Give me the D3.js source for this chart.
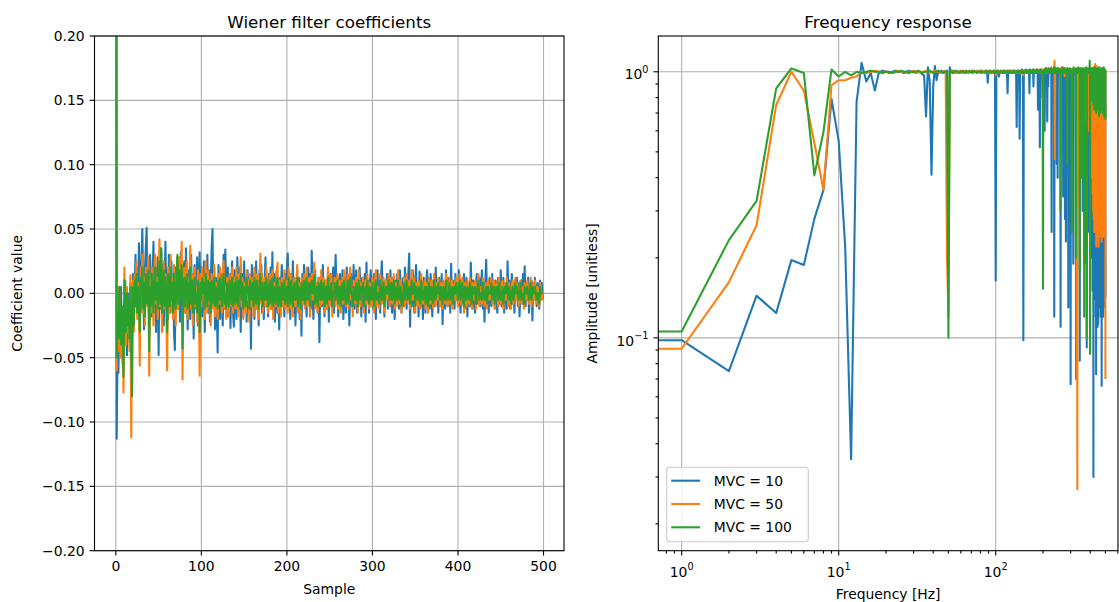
<!DOCTYPE html>
<html>
<head>
<meta charset="utf-8">
<script src="https://cdn.jsdelivr.net/npm/d3@7"></script>
<style>
  body { margin: 0; background: #fff; }
  svg text { font-family: "DejaVu Sans", sans-serif; fill: #000; }
</style>
</head>
<body>
<div id="chart"></div>
<script>
// ---------- data ----------
// Wiener filter coefficients, samples 0..499, in thousandths
const COEF_UNIT = 1000;
const coefMVC10 = [900,
  -113,-40,-62,-20,-45,5,-30,-55,-10,-35,10,-25,-48,0,-20,-38,8,-15,-30,
  15,-22,5,30,-10,20,-5,39,10,-15,25,50,0,-28,18,35,51,-8,22,-20,
  30,5,-18,12,40,-5,20,-30,10,28,-48,15,-12,35,0,22,-25,8,40,-10,
  18,-20,30,5,-15,25,-8,12,-30,-44,20,0,28,-12,15,-22,32,5,-18,10,
  25,-15,35,0,-28,18,8,-20,30,-5,15,-35,22,2,-12,28,-25,10,32,-8,
  20,-18,5,25,-30,12,0,30,-15,18,-22,8,35,50,-10,20,-28,12,-5,-46,
  22,0,-20,15,8,-25,30,-12,34,5,-18,20,-8,15,-27,10,25,-15,-26,18,
  5,-20,28,0,-12,20,-30,8,15,-18,25,-5,12,-22,18,0,-15,10,-43,22,
  -8,15,-20,5,25,-12,10,-25,18,0,22,-15,8,-20,12,28,-10,5,-18,15,
  0,20,-12,32,-8,15,-22,5,18,-15,10,-28,12,0,22,-10,5,-18,15,-5,
  20,31,-12,8,-20,15,0,25,-15,10,-25,5,18,-8,12,-20,8,-33,15,0,
  22,-10,5,-18,12,20,-5,15,-12,33,0,-20,10,18,-8,5,-15,12,-38,8,
  15,-10,22,0,-18,10,5,-12,18,-22,8,15,-8,0,20,-15,10,30,-5,12,
  -18,8,15,-10,0,18,-20,5,12,-15,20,-5,10,-25,8,15,-10,0,22,-12,
  5,18,-15,10,-8,20,0,-18,12,5,-12,15,-22,24,0,10,-15,8,18,-10,
  5,-12,15,0,-20,10,18,-8,5,-15,12,25,-5,8,-18,10,0,15,-12,5,
  -10,18,0,-15,12,5,-20,10,-5,15,0,-12,18,8,-15,5,12,-10,20,0,
  -12,8,15,31,-26,5,-10,18,0,-15,10,22,-8,5,-18,17,12,-10,8,-20,
  12,0,-15,10,18,-8,5,-12,15,0,-18,10,5,-10,20,-5,8,-15,12,0,
  -10,15,-24,8,5,-12,18,0,-10,12,5,-15,23,-8,10,0,-12,15,-5,8,
  -10,18,0,-15,10,5,-8,15,-12,0,12,-18,8,5,-10,24,0,-12,10,5,
  -15,8,15,-8,0,12,-10,5,18,-12,8,-22,10,26,-8,5,-15,12,0,-10,
  15,-5,8,-12,10,0,-15,12,5,-8,18,-10,0,12,-15,8,5,-12,25,-5,
  10,-12,0,15,-8,5,-15,10,0,12,-10,8,-18,5,10,-8,15,0,21,-10,
  8,-5,12,-15,5,0,10,-21,8,-5,12,0,-10,8,5,-12,10,0,8,-5];
const coefMVC50 = [900,
  -60,-25,-45,5,-30,-50,-15,-35,-77,20,-20,-40,5,-30,-10,-45,14,-112,-20,
  10,-30,15,-5,25,-20,8,-10,-56,20,0,30,-15,12,-25,20,5,-10,28,-64,
  10,-15,20,0,-25,15,30,-8,12,-20,5,42,-10,18,-30,8,25,-12,15,-5,
  -60,20,5,-15,30,-8,12,-20,22,0,-25,15,8,-12,28,-5,15,40,-67,10,
  20,-15,5,25,-20,10,0,37,-12,15,-25,8,20,-10,5,-22,18,0,-64,15,
  -10,20,-5,12,-20,25,0,-15,18,-8,10,-25,15,5,-12,22,-18,8,0,-20,
  15,-8,20,0,-15,10,25,-12,5,-20,12,0,-18,15,8,-10,20,-15,5,12,
  -12,20,0,-18,15,5,28,-10,12,-20,8,0,-15,18,-5,10,-22,15,0,-10,
  12,-18,20,5,-12,15,0,-20,10,31,-8,15,-15,5,12,-10,20,0,-15,8,
  15,-12,5,18,-20,8,0,-10,15,24,-15,10,0,-18,12,5,-10,18,-12,0,
  10,-15,20,5,-12,15,0,-18,8,12,-10,0,22,-15,8,5,-20,12,0,-8,
  15,-12,5,20,-10,0,12,-18,8,15,-5,10,24,-12,0,8,-15,12,5,-10,
  18,-8,0,12,-15,5,10,-12,20,0,-10,8,15,-18,5,0,12,-10,8,15,
  -12,5,10,-15,0,12,-8,18,5,-10,0,15,-12,8,20,-5,0,-18,10,5,
  -8,12,0,-15,18,5,-10,8,0,12,-15,5,10,-8,15,0,-12,8,5,-10,
  12,0,-15,8,18,-10,5,0,-12,15,8,-8,0,12,-15,5,10,-5,0,15,
  -10,5,12,-8,0,15,-12,8,5,-10,18,0,-8,10,-15,5,0,12,-10,8,
  15,-8,0,10,-12,5,18,-5,0,12,-15,8,5,-10,10,0,-12,15,5,-8,
  0,10,-12,8,5,-15,12,0,-8,10,5,-12,15,0,-10,8,-5,12,0,-10,
  8,5,-12,10,0,-8,15,5,-10,0,12,-8,5,10,-12,0,8,-5,12,0,
  -10,8,15,-8,0,12,5,-15,8,0,-10,10,5,-8,12,0,-12,8,5,-5,
  10,-12,0,8,15,-10,5,0,-8,12,5,-10,0,8,-12,10,5,-5,0,12,
  -8,5,10,-12,0,8,5,-10,12,0,-8,5,10,-12,0,8,-5,12,0,-10,
  8,0,-12,5,10,-8,0,12,-5,8,0,-10,5,10,-8,0,5,-12,8,0,
  -5,10,0,-8,5,12,-10,0,8,-5,10,0,-8,5,0,-10,8,5,-5,0];
const coefMVC100 = [900,
  -50,-20,-35,5,-25,-40,-10,-20,-65,10,-15,-30,0,-25,-5,-35,5,-45,-80,
  5,-25,10,-10,15,-15,5,-5,-30,12,0,20,-12,8,-18,15,0,-8,18,-45,
  5,-10,15,0,-15,10,20,-5,8,-12,5,25,-8,35,-15,5,18,-10,12,-5,
  -30,15,0,-10,20,-5,8,-15,15,0,-12,10,30,-8,18,-5,10,22,-43,5,
  12,-10,5,15,-12,8,0,20,-8,10,-15,5,12,-8,0,-15,10,0,-30,8,
  -5,12,0,8,-12,15,0,-10,10,-5,8,-15,10,0,-8,12,-10,5,0,-12,
  10,-5,12,0,-10,8,15,-8,0,-12,8,0,-10,10,5,-8,12,-10,0,8,
  -8,12,0,-10,10,0,15,-5,8,-12,5,0,-10,12,0,5,-12,10,0,-5,
  8,-10,12,0,-8,10,0,-12,5,15,-5,8,-10,0,8,-5,12,0,-10,5,
  10,-8,0,12,-10,5,0,-8,10,12,-10,5,0,-10,8,0,-5,10,-8,0,
  5,-10,12,0,-8,10,0,-10,5,8,-5,0,12,-10,5,0,-12,8,0,-5,
  10,-8,0,12,-5,0,8,-10,5,10,0,5,14,-8,0,5,-10,8,0,-5,
  10,-5,0,8,-10,0,5,-8,12,0,-5,5,8,-10,0,0,8,-5,5,10,
  -8,0,5,-10,0,8,-5,10,0,-8,0,10,-8,5,12,0,0,-10,5,0,
  -5,8,0,-10,10,0,-5,5,0,8,-10,0,5,-5,10,0,-8,5,0,-5,
  8,0,-10,5,10,-5,0,0,-8,10,5,-5,0,8,-10,0,5,0,0,10,
  -5,0,8,-5,0,10,-8,5,0,-5,10,0,-5,5,-10,0,0,8,-5,5,
  10,-5,0,5,-8,0,10,0,0,8,-10,5,0,-5,5,0,-8,10,0,-5,
  0,5,-8,5,0,-10,8,0,-5,5,0,-8,10,0,-5,5,0,8,0,-5,
  5,0,-8,5,0,-5,10,0,-5,0,8,-5,0,5,-8,0,5,0,8,0,
  -5,5,10,-5,0,8,0,-10,5,0,-5,5,0,-5,8,0,-8,5,0,0,
  5,-8,0,5,10,-5,0,0,-5,8,0,-5,0,5,-8,5,0,0,0,8,
  -5,0,5,-8,0,5,0,-5,8,0,-5,0,5,-8,0,5,0,8,0,-5,
  5,0,-8,0,5,-5,0,8,0,5,0,-5,0,8,-5,0,0,-8,5,0,
  0,5,0,-5,0,8,-5,0,5,0,5,0,-5,0,0,-8,5,0,0,0];

// Frequency response amplitude, 0..500 Hz in 1 Hz steps, in percent
const AMP_UNIT = 100;
const ampMVC10 = [
  9.8,9.8,7.5,14.4,12.4,19.6,18.8,28,36,79,
  55,22,3.5,77,108,92,99,85,99,101,
  100,99,100,101,100,100,99,100,101,100,
  100,99,100,100,98,97,68,104,92,41,
  88,105,93,100,99,101,100,99,100,101,
  30,104,100,99,101,100,100,99,100,100,
  101,100,99,100,100,101,100,99,100,100,
  100,101,99,100,100,100,99,101,100,100,
  99,100,101,100,100,99,100,100,101,91,
  100,99,100,101,100,100,99,101,100,98,
  16.4,97,100,101,99,96,100,101,100,99,
  100,100,101,99,100,100,99,101,100,83,
  100,99,101,100,100,99,100,101,100,99,
  100,101,100,99,100,98,62,100,101,99,
  100,101,56,100,99,101,100,102,99,100,
  9.8,100,101,99,100,100,102,99,100,101,
  100,99,101,100,83,100,99,101,100,100,
  99,101,100,102,88,100,99,101,100,100,
  101,99,100,102,100,99,72,100,99,101,
  100,52,100,101,99,100,102,100,99,80,
  100,98,101,100,99,60,101,100,103,99,
  100,101,99,65,100,100,88,101,99,100,
  102,100,99,101,100,103,99,25,100,101,
  99,102,100,98,101,100,12,100,104,99,
  101,100,99,102,100,45,101,99,40,103,
  100,99,101,100,98,102,100,99,101,11,
  100,102,99,101,50,98,103,100,99,34,
  101,100,99,102,100,101,28,100,103,99,
  23,100,101,99,102,100,45,101,100,99,
  13,101,100,102,99,100,35,98,100,102,
  6.7,100,99,101,100,102,99,100,101,98,
  100,102,19,100,99,101,100,103,99,100,
  101,100,98,102,100,7,101,100,99,102,
  100,101,60,100,99,102,100,98,101,100,
  99,102,100,8.2,101,100,99,103,100,45,
  101,100,99,102,100,98,101,100,30,102,
  100,99,101,100,102,99,100,101,19,100,
  99,102,100,101,50,100,99,103,100,101,
  9.2,100,101,99,102,100,40,101,100,99,
  102,100,101,25,100,99,102,100,101,60,
  100,102,99,101,30,100,103,99,100,20,
  101,100,99,102,15,100,101,99,100,3,
  100,102,20,101,99,14,100,102,18,101,
  99,25,100,101,12,100,7.3,102,22,100,
  99,16,101,100,20,102,11,100,99,24,
  11.3,101,100,18,102,99,14,100,21,101,
  100,13,102,99,19,100,12,101,100,17,
  102,99,15,6.6,100,21,101,100,13,102,
  99,18,100,101,12,100,22,102,99,15,
  101,100,19,102,13,100,99,17,101,100,
  14.2];
const ampMVC50 = [
  9.1,9.1,16.2,26.5,75,100,85,54,36,89,
  93,93,95,96,100,99,100,101,100,99,
  100,100,99,100,101,100,100,99,100,100,
  101,100,99,100,100,100,101,100,99,100,
  100,101,100,100,99,100,100,101,98,20,
  12,100,99,101,100,100,99,100,100,101,
  100,99,100,100,101,100,99,100,100,100,
  101,100,99,100,100,100,101,99,100,100,
  100,99,101,100,100,100,99,100,101,100,
  99,100,100,101,100,99,100,100,101,100,
  97,100,99,100,101,100,100,99,100,100,
  101,100,99,100,100,101,100,99,100,100,
  100,101,99,100,100,100,99,101,100,100,
  99,100,101,100,100,99,100,100,101,100,
  100,99,100,101,100,100,99,100,100,101,
  97,100,99,101,100,100,101,99,100,100,
  101,100,99,100,102,100,99,101,100,100,
  99,101,100,100,99,102,100,101,99,100,
  100,101,99,102,100,100,99,101,100,102,
  100,99,101,100,102,99,100,101,100,99,
  96,101,100,102,99,100,101,103,99,100,
  102,100,99,101,100,103,99,100,101,100,
  99,102,100,101,99,100,104,99,100,101,
  100,102,99,100,101,103,100,110,47,100,
  101,99,102,100,100,99,101,103,100,99,
  101,100,99,102,100,101,99,100,103,30,
  100,101,99,102,100,99,101,100,104,99,
  100,102,99,101,100,96,100,102,99,101,
  100,99,102,100,101,99,100,103,100,99,
  101,100,102,99,100,101,100,99,102,100,
  100,101,99,100,102,100,99,101,100,100,
  102,99,100,101,100,99,103,100,101,99,
  100,102,100,99,101,100,100,102,7,100,
  99,2.7,100,101,99,102,100,100,31,101,
  100,99,102,100,101,99,100,103,100,99,
  101,100,99,102,100,101,99,100,102,100,
  99,101,100,102,99,100,101,100,86,100,
  102,99,100,101,100,65,100,102,99,101,
  100,99,102,100,101,70,100,99,102,100,
  101,99,100,60,102,100,99,101,55,100,
  102,100,50,101,99,100,45,103,100,99,
  40,101,100,102,35,100,99,104,30,100,
  101,28,100,99,102,25,100,101,30,107,
  99,25,100,102,28,100,101,22,105,100,
  26,99,101,30,100,103,24,100,99,28,
  102,100,22,101,99,30,100,104,25,100,
  101,26,99,100,28,102,100,24,101,99,
  30,100,102,23,100,101,27,99,100,25,
  103,100,28,101,99,24,100,102,26,100,
  99,30,101,100,25,102,100,28,99,101,
  7];
const ampMVC100 = [
  10.57,10.57,23.3,32.7,86.6,103,99,40.8,59.4,102,
  96,100,97,100,99,100,101,100,100,99,
  100,100,99,100,100,101,100,100,99,100,
  100,100,101,100,99,100,100,100,101,100,
  99,100,100,101,100,100,99,100,100,99,
  10,101,100,100,99,100,101,100,100,99,
  100,100,101,100,99,100,100,100,101,100,
  99,100,100,101,100,100,99,100,100,100,
  101,100,99,100,100,100,101,100,99,100,
  100,101,100,99,100,100,100,101,100,99,
  99,100,101,100,100,99,100,100,101,100,
  100,99,100,101,100,100,99,100,100,101,
  100,100,99,100,101,100,100,99,100,100,
  101,100,99,100,100,101,100,99,100,100,
  100,101,100,99,100,100,101,100,99,100,
  99,100,101,100,99,100,100,101,100,99,
  100,101,100,99,100,102,100,99,101,100,
  100,99,101,100,102,100,99,100,101,100,
  99,101,100,102,100,99,101,100,100,99,
  101,100,99,102,100,101,100,99,100,98,
  15.3,99,101,100,102,99,100,101,100,103,
  99,100,101,102,100,99,101,100,103,99,
  100,102,99,101,100,103,100,99,101,100,
  102,99,100,101,100,104,99,100,102,100,
  99,101,103,100,99,102,100,101,99,100,
  103,100,99,101,100,102,99,100,101,30,
  100,102,99,101,100,104,99,100,102,100,
  99,101,100,103,100,99,102,100,101,99,
  100,102,99,101,100,45,100,103,99,101,
  100,99,102,100,101,99,100,103,100,99,
  101,100,99,102,100,25,101,100,99,102,
  100,101,99,104,100,99,102,100,101,99,
  100,102,99,101,20,100,103,99,100,101,
  99,102,100,101,99,100,104,100,99,101,
  100,102,99,18,100,101,99,103,100,100,
  101,99,102,100,40,101,99,100,103,100,
  99,101,100,102,99,100,12,101,100,103,
  100,99,102,100,101,99,100,104,100,99,
  10,101,100,102,99,100,103,100,101,99,
  100,102,99,101,100,103,100,110,99,8.7,
  101,100,99,102,100,85,101,100,103,80,
  100,101,99,78,102,100,85,101,99,75,
  100,103,80,101,99,72,100,102,82,100,
  104,76,100,99,85,101,100,70,102,100,
  80,99,101,74,100,103,78,100,99,72,
  102,100,82,101,99,68,100,104,76,100,
  101,80,99,100,70,102,100,78,101,99,
  74,100,103,80,100,101,72,99,100,78,
  102,100,70,101,99,76,100,104,68,100,
  99,80,101,100,74,102,100,72,99,101,
  66];

const seriesLabels = ["MVC = 10", "MVC = 50", "MVC = 100"];
const seriesColors = ["#1f77b4", "#ff7f0e", "#2ca02c"];
const coefSeries = [coefMVC10, coefMVC50, coefMVC100];
const ampSeries = [ampMVC10, ampMVC50, ampMVC100];

const sampleTicks = [0, 100, 200, 300, 400, 500];
const coefTicks = [-0.2, -0.15, -0.1, -0.05, 0, 0.05, 0.1, 0.15, 0.2];
const freqMajor = [1, 10, 100];
const ampMajor = [0.1, 1];

// ---------- drawing ----------
const W = 1119, H = 602;
const FS = 13.9;
const GRID = "#b0b0b0";
const LW = 2.08;   // 1.5 pt line at 100 dpi
const THIN = 1.1;  // 0.8 pt spines / grid / ticks

const svg = d3.select("#chart").append("svg")
  .attr("width", W).attr("height", H);
svg.append("rect").attr("width", W).attr("height", H).attr("fill", "#fff");

function drawGridV(g, xs, top, bottom) {
  g.selectAll(null).data(xs).enter().append("line")
    .attr("x1", d => d).attr("x2", d => d)
    .attr("y1", top).attr("y2", bottom)
    .attr("stroke", GRID).attr("stroke-width", THIN);
}
function drawGridH(g, ys, left, right) {
  g.selectAll(null).data(ys).enter().append("line")
    .attr("y1", d => d).attr("y2", d => d)
    .attr("x1", left).attr("x2", right)
    .attr("stroke", GRID).attr("stroke-width", THIN);
}
function tickLines(g, pos, horizontal, at, len) {
  g.selectAll(null).data(pos).enter().append("line")
    .attr("x1", d => horizontal ? d : at)
    .attr("x2", d => horizontal ? d : at - len)
    .attr("y1", d => horizontal ? at : d)
    .attr("y2", d => horizontal ? at + len : d)
    .attr("stroke", "#000").attr("stroke-width", THIN);
}
function fmtMinus(s) { return s.replace("-", "\u2212"); }

// 1. Left panel: coefficients
const boxL = { left: 94.5, right: 564, top: 36, bottom: 550.7 };
const xL = d3.scaleLinear().domain([-24.95, 523.95]).range([boxL.left, boxL.right]);
const yL = d3.scaleLinear().domain([-0.2, 0.2]).range([boxL.bottom, boxL.top]);

svg.append("clipPath").attr("id", "clipL").append("rect")
  .attr("x", boxL.left).attr("y", boxL.top)
  .attr("width", boxL.right - boxL.left).attr("height", boxL.bottom - boxL.top);

const gL = svg.append("g");
drawGridV(gL, sampleTicks.map(xL), boxL.top, boxL.bottom);
drawGridH(gL, coefTicks.map(yL), boxL.left, boxL.right);

const lineL = d3.line()
  .x((d, i) => xL(i))
  .y(d => yL(d / COEF_UNIT));

gL.append("g").attr("clip-path", "url(#clipL)")
  .selectAll("path").data(coefSeries).enter().append("path")
  .attr("d", lineL)
  .attr("fill", "none")
  .attr("stroke", (d, i) => seriesColors[i])
  .attr("stroke-width", LW)
  .attr("stroke-linejoin", "round");

gL.append("rect")
  .attr("x", boxL.left).attr("y", boxL.top)
  .attr("width", boxL.right - boxL.left).attr("height", boxL.bottom - boxL.top)
  .attr("fill", "none").attr("stroke", "#000").attr("stroke-width", THIN);

tickLines(gL, sampleTicks.map(xL), true, boxL.bottom, 4.9);
tickLines(gL, coefTicks.map(yL), false, boxL.left, 4.9);

gL.selectAll(null).data(sampleTicks).enter().append("text")
  .attr("x", d => xL(d)).attr("y", boxL.bottom + 20.5)
  .attr("text-anchor", "middle").attr("font-size", FS)
  .text(d => d);
gL.selectAll(null).data(coefTicks).enter().append("text")
  .attr("x", boxL.left - 9.8).attr("y", d => yL(d) + 5)
  .attr("text-anchor", "end").attr("font-size", FS)
  .text(d => fmtMinus(d3.format(".2f")(d)));

gL.append("text").attr("x", (boxL.left + boxL.right) / 2).attr("y", 27.5)
  .attr("text-anchor", "middle").attr("font-size", 16.7)
  .text("Wiener filter coefficients");
gL.append("text").attr("x", (boxL.left + boxL.right) / 2).attr("y", 594)
  .attr("text-anchor", "middle").attr("font-size", FS).text("Sample");
gL.append("text").attr("transform", `translate(22,${(boxL.top + boxL.bottom) / 2}) rotate(-90)`)
  .attr("text-anchor", "middle").attr("font-size", FS).text("Coefficient value");

// 2. Right panel: frequency response (log-log)
const boxR = { left: 658.3, right: 1118, top: 36, bottom: 550.7 };
const xR = d3.scaleLog().domain([0.71, 601]).range([boxR.left, boxR.right]);
const yR = d3.scaleLog().domain([0.01585, 1.363]).range([boxR.bottom, boxR.top]);

svg.append("clipPath").attr("id", "clipR").append("rect")
  .attr("x", boxR.left).attr("y", boxR.top)
  .attr("width", boxR.right - boxR.left).attr("height", boxR.bottom - boxR.top);

const gR = svg.append("g");
drawGridV(gR, freqMajor.map(xR), boxR.top, boxR.bottom);
drawGridH(gR, ampMajor.map(yR), boxR.left, boxR.right);

// 0 Hz cannot sit on a log axis; push it far left like a clipped log value
const lineR = d3.line()
  .x((d, i) => xR(Math.max(i, 1e-6)))
  .y(d => yR(d / AMP_UNIT));

gR.append("g").attr("clip-path", "url(#clipR)")
  .selectAll("path").data(ampSeries).enter().append("path")
  .attr("d", lineR)
  .attr("fill", "none")
  .attr("stroke", (d, i) => seriesColors[i])
  .attr("stroke-width", LW)
  .attr("stroke-linejoin", "round");

gR.append("rect")
  .attr("x", boxR.left).attr("y", boxR.top)
  .attr("width", boxR.right - boxR.left).attr("height", boxR.bottom - boxR.top)
  .attr("fill", "none").attr("stroke", "#000").attr("stroke-width", THIN);

const [fx0, fx1] = xR.domain();
const freqMinor = [];
for (let e = -1; e <= 2; e++) for (let m = 2; m <= 9; m++) {
  const v = m * Math.pow(10, e);
  if (v >= fx0 && v <= fx1) freqMinor.push(v);
}
const [ay0, ay1] = yR.domain();
const ampMinor = [];
for (let e = -2; e <= 0; e++) for (let m = 2; m <= 9; m++) {
  const v = m * Math.pow(10, e);
  if (v >= ay0 && v <= ay1) ampMinor.push(v);
}

tickLines(gR, freqMajor.map(xR), true, boxR.bottom, 4.9);
tickLines(gR, freqMinor.map(xR), true, boxR.bottom, 2.8);
tickLines(gR, ampMajor.map(yR), false, boxR.left, 4.9);
tickLines(gR, ampMinor.map(yR), false, boxR.left, 2.8);

function powLabel(sel, exp) {
  sel.append("tspan").text("10");
  sel.append("tspan").attr("font-size", 9.7).attr("dy", -6.5)
    .text(exp < 0 ? "\u2212" + (-exp) : String(exp));
}
freqMajor.forEach(f => {
  const t = gR.append("text").attr("x", xR(f)).attr("y", boxR.bottom + 26)
    .attr("text-anchor", "middle").attr("font-size", FS);
  powLabel(t, Math.round(Math.log10(f)));
});
ampMajor.forEach(a => {
  const t = gR.append("text").attr("x", boxR.left - 9.8).attr("y", yR(a) + 7.7)
    .attr("text-anchor", "end").attr("font-size", FS);
  powLabel(t, Math.round(Math.log10(a)));
});

gR.append("text").attr("x", 888).attr("y", 27.5)
  .attr("text-anchor", "middle").attr("font-size", 16.7)
  .text("Frequency response");
gR.append("text").attr("x", (boxR.left + boxR.right) / 2).attr("y", 599)
  .attr("text-anchor", "middle").attr("font-size", FS).text("Frequency [Hz]");
gR.append("text").attr("transform", `translate(597,${(boxR.top + boxR.bottom) / 2}) rotate(-90)`)
  .attr("text-anchor", "middle").attr("font-size", FS).text("Amplitude [unitless]");

// 3. Legend
const leg = gR.append("g").attr("transform", "translate(666.7,467.3)");
leg.append("rect").attr("width", 141.6).attr("height", 74.4).attr("rx", 3)
  .attr("fill", "#fff").attr("fill-opacity", 0.8)
  .attr("stroke", "#cccccc").attr("stroke-width", 1.1);
seriesLabels.forEach((lab, i) => {
  const cy = 13.4 + i * 23.3;
  leg.append("line").attr("x1", 4.5).attr("x2", 33.5).attr("y1", cy).attr("y2", cy)
    .attr("stroke", seriesColors[i]).attr("stroke-width", LW);
  leg.append("text").attr("x", 47).attr("y", cy + 5).attr("font-size", FS).text(lab);
});
</script>
</body>
</html>
